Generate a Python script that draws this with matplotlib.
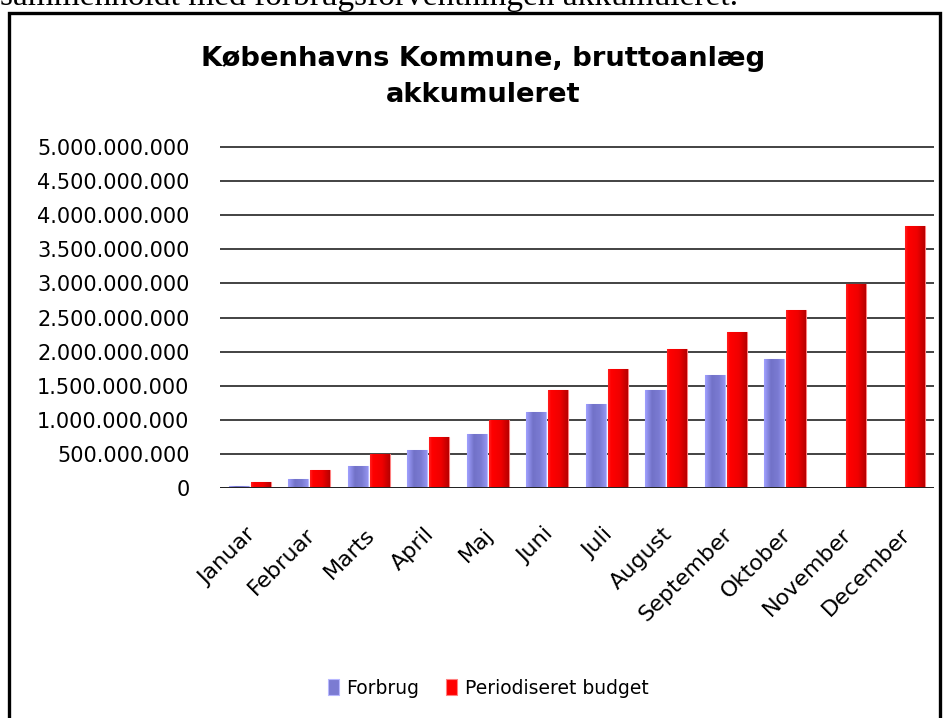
import numpy as np
import matplotlib
matplotlib.use("Agg")
import matplotlib.pyplot as plt
import matplotlib.transforms as mtransforms
from matplotlib.colors import LinearSegmentedColormap
from matplotlib.patches import Rectangle
from matplotlib.ticker import FuncFormatter

# data (kr, akkumuleret)
months = ["Januar", "Februar", "Marts", "April", "Maj", "Juni", "Juli",
          "August", "September", "Oktober", "November", "December"]
forbrug = [30e6, 135e6, 325e6, 550e6, 795e6, 1120e6, 1235e6,
           1440e6, 1650e6, 1895e6, np.nan, np.nan]
budget = [95e6, 268e6, 505e6, 742e6, 1000e6, 1437e6, 1750e6,
          2045e6, 2285e6, 2613e6, 2985e6, 3835e6]
yticks = np.arange(0, 5.0e9 + 1, 0.5e9)

blue_cmap = LinearSegmentedColormap.from_list(
    "blue", [(0, "#a0a0ff"), (0.35, "#7272c8"), (0.7, "#7a7ad2"), (1, "#9494ee")])
red_cmap = LinearSegmentedColormap.from_list(
    "red", [(0, "#ff2020"), (0.15, "#ff0000"), (0.6, "#f00000"), (1, "#b80000")])

fig = plt.figure(figsize=(9.48, 7.18), dpi=100)
ax = fig.add_axes([220 / 948, 1 - 488 / 718, 714 / 948, 343 / 718])

x = np.arange(len(months))
w = 0.33
grad = np.linspace(0, 1, 64).reshape(1, -1)


def gradient_bars(bars, cmap, edge):
    for b in bars:
        h = b.get_height()
        if not np.isfinite(h) or h <= 0:
            continue
        bx, by = b.get_xy()
        bw = b.get_width()
        im = ax.imshow(grad, extent=[bx, bx + bw, by, by + h], aspect="auto",
                       cmap=cmap, zorder=3, interpolation="bilinear")
        im.set_clip_path(b)
        b.set_edgecolor(edge)


b1 = ax.bar(x - 0.185, forbrug, w, color="#7b7bd2", linewidth=0.8, zorder=3,
            label="Forbrug")
b2 = ax.bar(x + 0.185, budget, w, color="#ff0000", linewidth=0.8, zorder=3,
            label="Periodiseret budget")
gradient_bars(b1, blue_cmap, "#b8b8ff")
gradient_bars(b2, red_cmap, "#ff8080")

ax.set_xlim(-0.5, len(months) - 0.5)
ax.set_ylim(0, 5.0e9 * 343 / 341)
ax.set_yticks(yticks)
ax.yaxis.set_major_formatter(FuncFormatter(lambda v, p: f"{v:,.0f}".replace(",", ".")))
ax.grid(axis="y", color="#222222", linewidth=1.2, zorder=0)
ax.set_axisbelow(True)
for s in ax.spines.values():
    s.set_visible(False)
ax.axhline(0, color="#222222", linewidth=1.4, zorder=4)
ax.tick_params(axis="y", length=0, pad=22, labelsize=15)
ax.tick_params(axis="x", length=0, pad=26, labelsize=16)
ax.set_xticks(x)
ax.set_xticklabels(months, rotation=45, ha="right", rotation_mode="anchor")
shift = mtransforms.ScaledTranslation(-4 / 100, 0, fig.dpi_scale_trans)
for lab in ax.get_xticklabels():
    lab.set_transform(lab.get_transform() + shift)

fig.text(483 / 948, 1 - 77 / 718, "Københavns Kommune, bruttoanlæg\nakkumuleret",
         ha="center", va="center", fontsize=19.7, fontweight="bold", linespacing=1.55)

# tekst over diagrammet (afskåret)
fig.text(0.0, 1 - 5 / 718, "sammenholdt med forbrugsforventningen akkumuleret.",
         ha="left", va="baseline", fontsize=24, family="Liberation Serif")

# ramme
fig.patches.append(Rectangle((9 / 948, -0.05), 931 / 948, 1.05 - 13 / 718,
                             transform=fig.transFigure, fill=False,
                             edgecolor="black", linewidth=2.4, zorder=10))

leg = fig.legend(handles=[b1, b2], loc="center", bbox_to_anchor=(488 / 948, 1 - 688 / 718),
                 ncol=2, frameon=False, fontsize=13.5, handlelength=0.6,
                 handleheight=0.9, handletextpad=0.4, columnspacing=1.4)

fig.savefig("out.png", dpi=100)
